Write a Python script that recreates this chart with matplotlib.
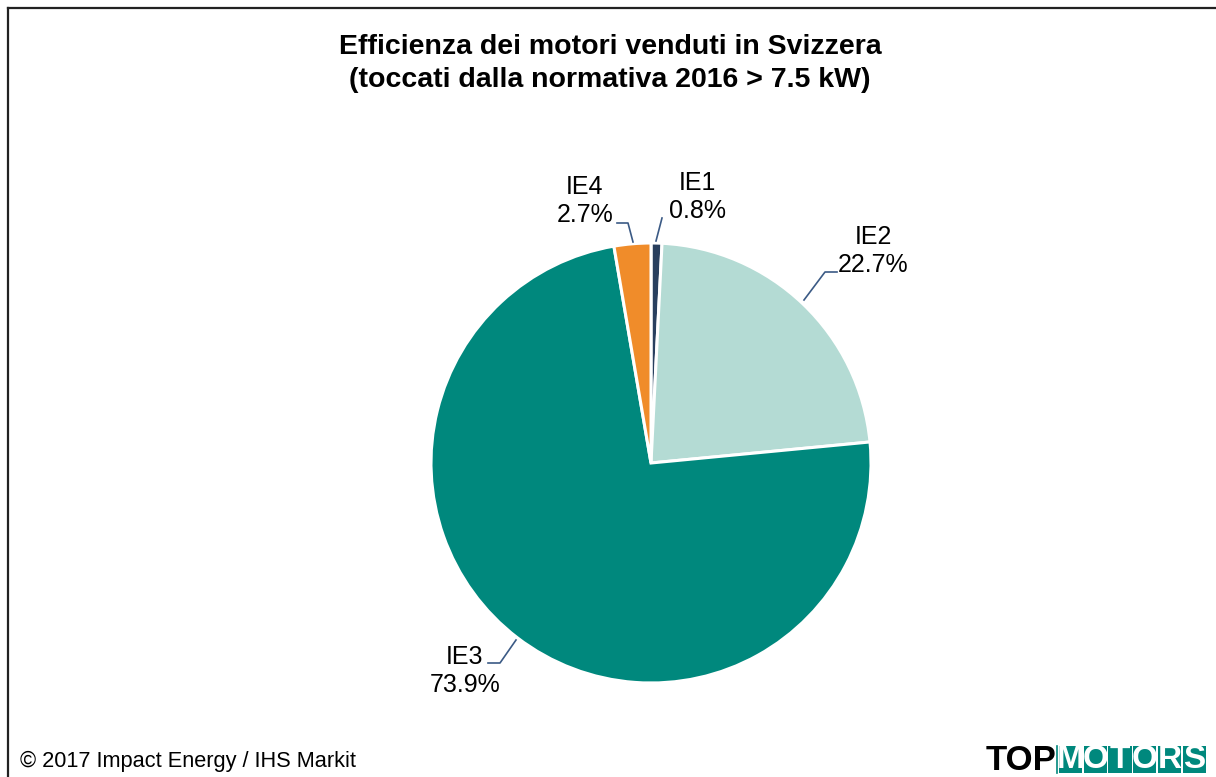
import matplotlib.pyplot as plt
from matplotlib.patches import Rectangle

# data
categories = ["IE1", "IE2", "IE3", "IE4"]
shares = [0.8, 22.7, 73.9, 2.7]
colors = ["#283f5e", "#b4dbd4", "#00887d", "#f08c2a"]

W, H = 1216, 777
plt.rcParams['font.family'] = ['Liberation Sans', 'DejaVu Sans']

fig = plt.figure(figsize=(W / 100, H / 100), dpi=100)
ax = fig.add_axes([0, 0, 1, 1])
ax.set_aspect('equal')
ax.axis('off')

cx, cy, r = 651, 463, 220
wedges, _ = ax.pie(shares, colors=colors, startangle=90, counterclock=False,
                   center=(cx, -cy), radius=r,
                   wedgeprops=dict(edgecolor='white', linewidth=2.2))
ax.set_ylim(-H, 0)
ax.set_xlim(0, W)

# frame
ax.plot([8, W], [-8, -8], color='#222222', lw=1.6)
ax.plot([8, 8], [-8, -H], color='#222222', lw=1.6)

ax.text(610, -47, "Efficienza dei motori venduti in Svizzera", ha='center', va='center',
        fontsize=20.5, fontweight='bold')
ax.text(610, -80, "(toccati dalla normativa 2016 > 7.5 kW)", ha='center', va='center',
        fontsize=20.5, fontweight='bold')

# labels with leader lines
lbl = {
    "IE1": ((697, 197), [(656, 241), (662, 218)]),
    "IE2": ((873, 251), [(804, 300), (825, 272), (837, 272)]),
    "IE3": ((465, 671), [(516, 640), (500, 663), (488, 663)]),
    "IE4": ((585, 201), [(633, 242), (628, 223), (617, 223)]),
}
for name, val in zip(categories, shares):
    (tx, ty), pts = lbl[name]
    ax.text(tx, -ty, f"{name}\n{val:.1f}%", ha='center', va='center',
            fontsize=18, linespacing=1.2)
    ax.plot([p[0] for p in pts], [-p[1] for p in pts], color='#3b5a85', lw=1.2)

ax.text(20, -761, "© 2017 Impact Energy / IHS Markit", ha='left', va='center', fontsize=15.7)

# logo
ax.text(986, -760, "TOP", ha='left', va='center', fontsize=25, fontweight='heavy', color='black')
ax.plot([1057, 1057], [-746, -773], color='#00887d', lw=1.2)
cell_w = 24.7
for i, ch in enumerate("MOTORS"):
    x0 = 1059 + i * cell_w
    ax.add_patch(Rectangle((x0, -773), cell_w - 1.5, 27, color='#00887d', lw=0))
    ax.text(x0 + (cell_w - 1.5) / 2, -759.5, ch, ha='center', va='center',
            fontsize=24, fontweight='bold', color='white')

fig.savefig("out.png", dpi=100)
